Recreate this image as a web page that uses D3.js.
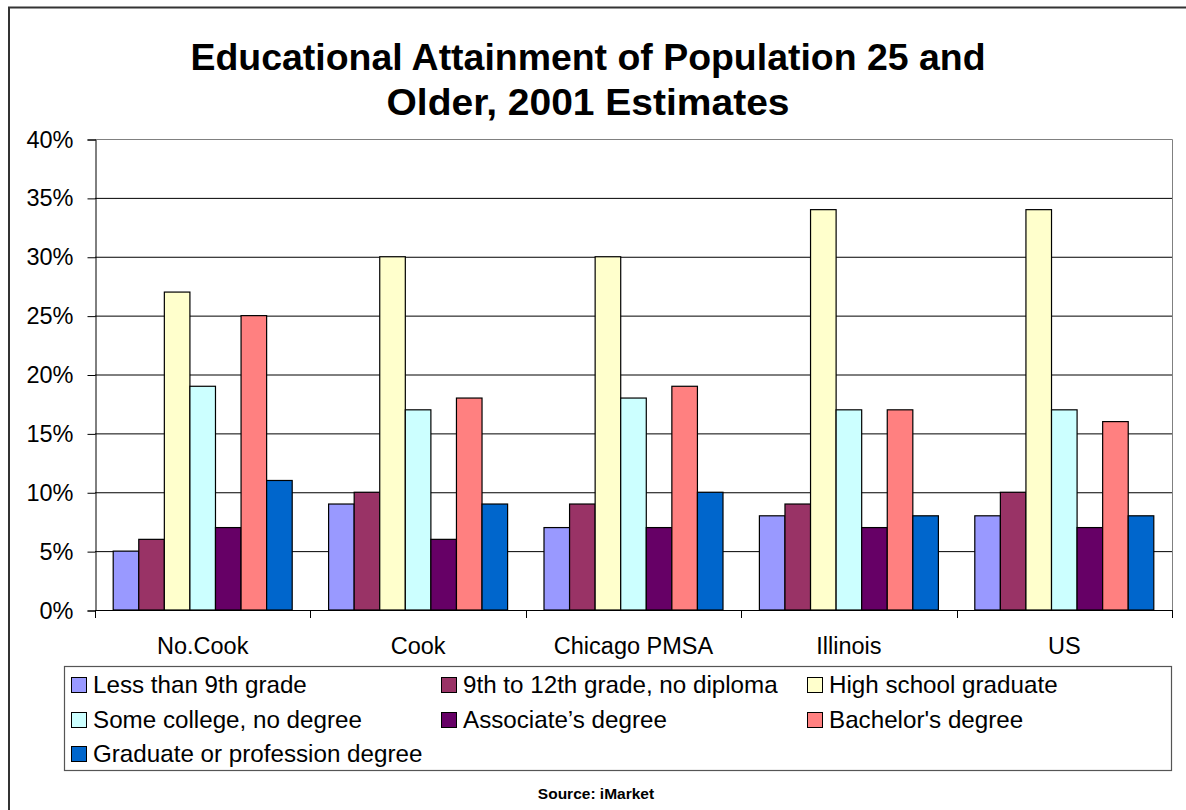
<!DOCTYPE html>
<html><head><meta charset="utf-8">
<script src="https://cdn.jsdelivr.net/npm/d3@7"></script>
<style>body{margin:0;background:#fff}svg{display:block;font-family:"Liberation Sans",Arial,sans-serif}</style>
</head><body><svg id="c" width="1186" height="810"></svg>
<script>
const categories = ["No.Cook","Cook","Chicago PMSA","Illinois","US"];
const seriesNames = ["Less than 9th grade","9th to 12th grade, no diploma","High school graduate","Some college, no degree","Associate\u2019s degree","Bachelor's degree","Graduate or profession degree"];
const seriesColors = ["#9999FF","#993366","#FFFFCC","#CCFFFF","#660066","#FF8080","#0066CC"];
const lessThan9 = [5,9,7,8,8];
const grade9to12 = [6,10,9,9,10];
const highSchool = [27,30,30,34,34];
const someCollege = [19,17,18,17,17];
const associate = [7,6,7,7,7];
const bachelor = [25,18,19,17,16];
const graduate = [11,9,10,8,8];
const seriesValues = [lessThan9,grade9to12,highSchool,someCollege,associate,bachelor,graduate];
const yTicks = [0,5,10,15,20,25,30,35,40];

const svg = d3.select("#c");
svg.append("rect").attr("x",9).attr("y",7.5).attr("width",1190).attr("height",820)
  .attr("fill","none").attr("stroke","#333").attr("stroke-width",2);

const title = svg.append("text").attr("text-anchor","middle").attr("font-weight","bold").attr("font-size",37).attr("fill","#000");
title.append("tspan").attr("x",588).attr("y",70).attr("textLength",795).attr("lengthAdjust","spacingAndGlyphs").text("Educational Attainment of Population 25 and");
title.append("tspan").attr("x",588).attr("y",115).attr("textLength",403).attr("lengthAdjust","spacingAndGlyphs").text("Older, 2001 Estimates");

const L=95, R=1172, T=139, B=610;
const x0 = d3.scaleBand().domain(categories).range([L,R]).paddingInner(0).paddingOuter(0);
const inner = 179/215.4;
const x1 = d3.scaleBand().domain(d3.range(seriesNames.length)).range([0,x0.bandwidth()*inner]);
const off = x0.bandwidth()*(1-inner)/2;
const y = d3.scaleLinear().domain([0,40]).range([B,T]);

svg.append("g").selectAll("line").data(yTicks.filter(t=>t>0 && t<40)).join("line")
  .attr("x1",L).attr("x2",R).attr("y1",d=>y(d)+0.5).attr("y2",d=>y(d)+0.5)
  .attr("stroke","#000").attr("stroke-width",1);
svg.append("path").attr("d",`M${L},${T+0.5}H${R+0.5}V${B}`).attr("fill","none").attr("stroke","#808080").attr("stroke-width",1);

const g = svg.append("g");
seriesValues.forEach((vals,si)=>{
  g.append("g").selectAll("rect").data(vals).join("rect")
    .attr("x",(d,i)=>x0(categories[i])+off+x1(si))
    .attr("width",x1.bandwidth())
    .attr("y",d=>y(d))
    .attr("height",d=>B-y(d))
    .attr("fill",seriesColors[si]).attr("stroke","#000").attr("stroke-width",1.2);
});

const yAxis = d3.axisLeft(y).tickValues(yTicks).tickFormat(d=>d+"%").tickSize(8).tickPadding(14);
const ya = svg.append("g").attr("transform",`translate(${L+0.5},0.5)`).call(yAxis);
ya.select(".domain").attr("stroke","#000");
ya.selectAll(".tick line").attr("stroke","#000");
ya.selectAll("text").attr("font-size",23.5).attr("fill","#000").attr("font-family","Liberation Sans, Arial, sans-serif");

const xb = d3.scaleLinear().domain([0,categories.length]).range([L,R]);
svg.append("line").attr("x1",L).attr("x2",R+0.5).attr("y1",B+0.5).attr("y2",B+0.5).attr("stroke","#000");
svg.append("g").selectAll("line").data(d3.range(categories.length+1)).join("line")
  .attr("x1",d=>Math.round(xb(d))+0.5).attr("x2",d=>Math.round(xb(d))+0.5).attr("y1",B).attr("y2",B+8).attr("stroke","#000");
svg.append("g").selectAll("text").data(categories).join("text")
  .attr("x",d=>x0(d)+x0.bandwidth()/2).attr("y",654).attr("text-anchor","middle")
  .attr("font-size",23.5).attr("fill","#000").text(d=>d);

svg.append("rect").attr("x",64.5).attr("y",666.5).attr("width",1107).attr("height",104)
  .attr("fill","#fff").attr("stroke","#555").attr("stroke-width",1.2);
const colX = [71,441,807];
const rowY = [685,720,754];
const lg = svg.append("g").selectAll("g").data(seriesNames).join("g")
  .attr("transform",(d,i)=>`translate(${colX[i%3]},${rowY[Math.floor(i/3)]})`);
lg.append("rect").attr("x",0.5).attr("y",-7.5).attr("width",15).attr("height",15)
  .attr("fill",(d,i)=>seriesColors[i]).attr("stroke","#000").attr("stroke-width",1);
lg.append("text").attr("x",22).attr("y",8).attr("font-size",24.2).attr("fill","#000").text(d=>d);

svg.append("text").attr("x",596).attr("y",799).attr("text-anchor","middle").attr("font-weight","bold")
  .attr("font-size",15.5).attr("fill","#000").text("Source: iMarket");
</script></body></html>
